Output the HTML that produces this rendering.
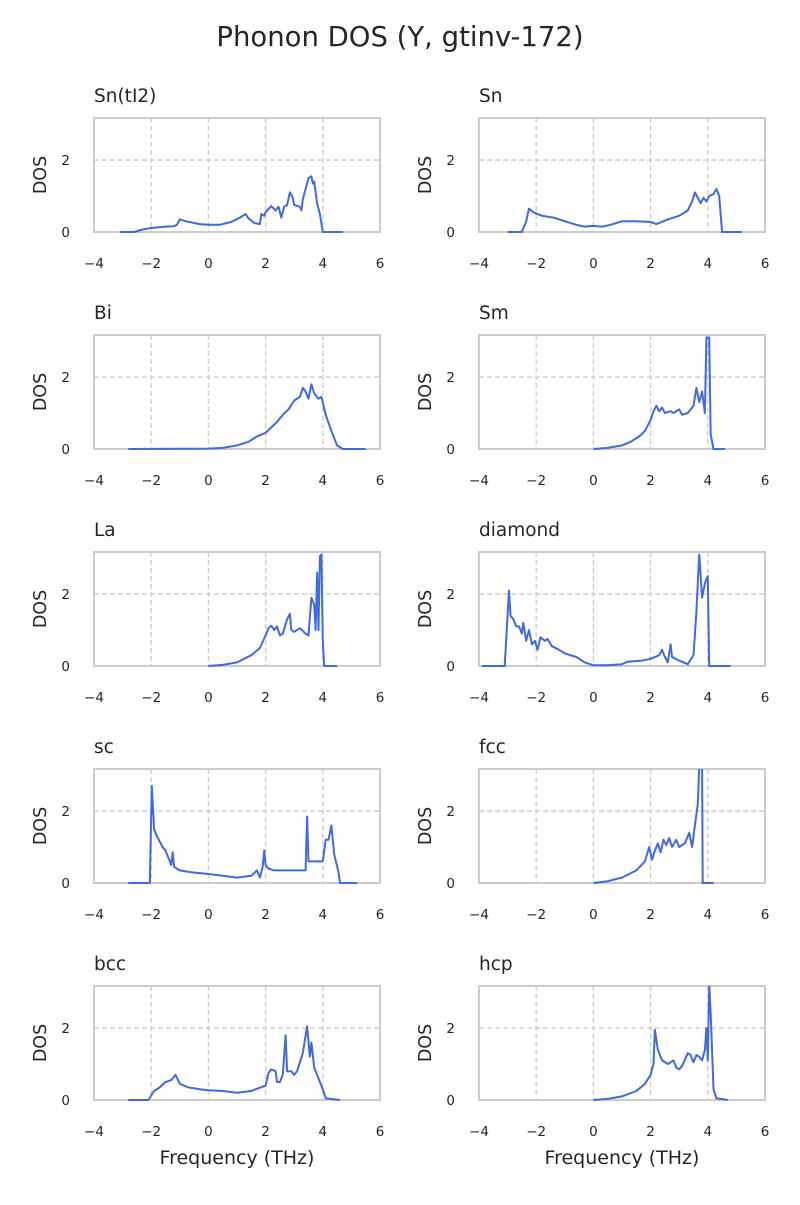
<!DOCTYPE html>
<html><head><meta charset="utf-8"><style>
body{margin:0;background:#fff;font-family:"Liberation Sans","DejaVu Sans",sans-serif;}
svg text{font-family:"DejaVu Sans","Liberation Sans",sans-serif;fill:#262626;}
</style></head><body>
<svg id="chart" width="800" height="1200" xmlns="http://www.w3.org/2000/svg">
<text x="400" y="46" font-size="27.5" text-anchor="middle">Phonon DOS (Y, gtinv-172)</text>
</svg>
<script>
const panelNames = ["Sn(tI2)","Sn","Bi","Sm","La","diamond","sc","fcc","bcc","hcp"];
const xTicks = [-4,-2,0,2,4,6];
const yTicks = [0,2];
const freqSn_tI2 = [-3.1,-2.6,-2.3,-2,-1.5,-1.2,-1.1,-1,-0.8,-0.5,-0.3,0,0.4,0.8,1.1,1.3,1.4,1.6,1.8,1.85,1.95,2.0,2.2,2.35,2.45,2.55,2.65,2.75,2.85,2.95,3.0,3.2,3.25,3.3,3.4,3.5,3.6,3.65,3.7,3.8,3.9,4.0,4.7];
const dosSn_tI2 = [0,0,0.07,0.11,0.15,0.16,0.2,0.35,0.3,0.25,0.22,0.2,0.2,0.28,0.4,0.5,0.38,0.25,0.22,0.5,0.45,0.55,0.72,0.6,0.7,0.4,0.7,0.75,1.1,0.95,0.75,0.7,0.6,0.9,1.2,1.5,1.55,1.35,1.4,0.8,0.5,0,0];
const freqSn = [-3,-2.5,-2.35,-2.25,-2.1,-1.8,-1.4,-1,-0.6,-0.3,0,0.3,0.6,0.8,1,1.4,2,2.2,2.6,3.0,3.3,3.45,3.55,3.65,3.75,3.85,3.95,4.05,4.2,4.3,4.4,4.5,5.2];
const dosSn = [0,0,0.3,0.65,0.55,0.45,0.4,0.3,0.2,0.15,0.17,0.15,0.2,0.25,0.3,0.3,0.28,0.22,0.35,0.45,0.6,0.85,1.1,0.95,0.8,0.95,0.85,1.0,1.05,1.2,1.0,0,0];
const freqBi = [-2.8,0,0.5,1,1.4,1.7,2,2.2,2.4,2.6,2.8,3.0,3.2,3.3,3.4,3.5,3.6,3.7,3.85,3.95,4.1,4.3,4.5,4.7,5.5];
const dosBi = [0,0.01,0.03,0.1,0.2,0.35,0.45,0.6,0.75,0.95,1.1,1.35,1.45,1.7,1.6,1.4,1.8,1.55,1.4,1.45,0.95,0.5,0.1,0,0];
const freqSm = [0,0.5,1,1.3,1.6,1.8,2,2.1,2.2,2.3,2.4,2.5,2.7,2.8,3.0,3.1,3.3,3.5,3.6,3.7,3.8,3.9,3.95,4.05,4.1,4.2,4.6];
const dosSm = [0,0.03,0.1,0.2,0.35,0.5,0.8,1.05,1.2,1.05,1.15,1.0,1.05,1.0,1.1,0.95,1.0,1.2,1.7,1.3,1.6,1.0,3.1,3.1,0.4,0,0];
const freqLa = [0,0.5,1,1.5,1.8,2,2.1,2.2,2.3,2.4,2.5,2.6,2.75,2.85,2.9,3.0,3.2,3.4,3.5,3.6,3.7,3.75,3.8,3.85,3.9,3.95,4.0,4.05,4.5];
const dosLa = [0,0.03,0.1,0.3,0.5,0.85,1.05,1.12,1.0,1.1,0.85,0.9,1.3,1.45,1.0,0.95,1.05,0.9,0.85,1.9,1.7,1.0,2.6,1.0,3.05,3.1,0.7,0,0];
const freqDiamond = [-3.9,-3.1,-2.95,-2.9,-2.8,-2.7,-2.6,-2.5,-2.45,-2.35,-2.25,-2.15,-2.05,-1.95,-1.85,-1.7,-1.6,-1.45,-1.2,-1,-0.6,-0.3,0,0.5,1,1.2,1.7,2.0,2.3,2.4,2.5,2.6,2.7,2.75,3,3.3,3.5,3.6,3.7,3.8,3.9,4.0,4.05,4.8];
const dosDiamond = [0,0,2.1,1.4,1.3,1.1,1.1,0.9,1.2,0.7,1.0,0.6,0.7,0.45,0.8,0.7,0.75,0.55,0.45,0.35,0.25,0.1,0.02,0.02,0.05,0.12,0.15,0.2,0.3,0.45,0.25,0.1,0.6,0.25,0.15,0.05,0.3,1.5,3.1,1.9,2.3,2.5,0,0];
const freqSc = [-2.8,-2.05,-1.98,-1.9,-1.8,-1.6,-1.5,-1.4,-1.3,-1.25,-1.2,-1,-0.6,0,0.5,1,1.5,1.7,1.8,1.9,1.95,2.0,2.1,2.3,3.4,3.45,3.5,4.0,4.1,4.2,4.3,4.4,4.55,4.6,5.2];
const dosSc = [0,0,2.7,1.5,1.3,1.0,0.9,0.7,0.5,0.85,0.45,0.35,0.3,0.25,0.2,0.15,0.2,0.35,0.15,0.45,0.9,0.5,0.4,0.35,0.35,1.85,0.6,0.6,1.2,1.2,1.6,0.8,0.3,0,0];
const freqFcc = [0,0.5,1,1.5,1.8,1.95,2.05,2.15,2.25,2.35,2.45,2.55,2.65,2.75,2.9,3.0,3.2,3.35,3.45,3.55,3.65,3.7,3.8,3.82,4.2];
const dosFcc = [0,0.05,0.15,0.35,0.6,1.0,0.65,0.9,1.1,0.85,1.2,1.05,1.25,1.0,1.2,1.0,1.1,1.4,1.0,1.6,2.2,3.2,3.2,0,0];
const freqBcc = [-2.8,-2.1,-1.9,-1.7,-1.5,-1.3,-1.15,-1,-0.7,-0.3,0,0.5,1,1.5,2.0,2.1,2.2,2.35,2.4,2.5,2.6,2.7,2.75,2.9,3.0,3.1,3.3,3.45,3.55,3.6,3.7,3.85,4.0,4.1,4.6];
const dosBcc = [0,0,0.25,0.35,0.5,0.55,0.7,0.45,0.35,0.3,0.27,0.25,0.2,0.25,0.4,0.75,0.85,0.8,0.5,0.5,0.7,1.8,0.8,0.8,0.7,0.8,1.3,2.05,1.2,1.6,0.9,0.6,0.3,0.05,0];
const freqHcp = [0,0.5,1,1.5,1.8,2.0,2.1,2.15,2.25,2.4,2.6,2.8,2.9,3.0,3.1,3.3,3.4,3.5,3.6,3.7,3.8,3.9,3.95,4.0,4.05,4.1,4.2,4.3,4.7];
const dosHcp = [0,0.03,0.1,0.25,0.45,0.7,1.0,1.95,1.4,1.1,1.0,1.1,0.9,0.85,0.95,1.3,1.25,1.05,1.25,1.2,1.1,1.4,2.0,1.1,3.2,2.4,0.3,0.05,0];

const freqs=[freqSn_tI2,freqSn,freqBi,freqSm,freqLa,freqDiamond,freqSc,freqFcc,freqBcc,freqHcp];
const doss=[dosSn_tI2,dosSn,dosBi,dosSm,dosLa,dosDiamond,dosSc,dosFcc,dosBcc,dosHcp];
const NS="http://www.w3.org/2000/svg";
const svg=document.getElementById('chart');
function mk(tag,attrs,parent){const e=document.createElementNS(NS,tag);for(const k in attrs)e.setAttribute(k,attrs[k]);(parent||svg).appendChild(e);return e;}
const XMIN=-4,XMAX=6,YMAX=3.17;
const W=286,H=114;
const lefts=[94,479],tops=[118,335,552,769,986];
panelNames.forEach((name,i)=>{
  const L=lefts[i%2],T=tops[Math.floor(i/2)];
  const xs=v=>L+(v-XMIN)/(XMAX-XMIN)*W;
  const ys=v=>T+H-v/YMAX*H;
  const g=mk('g',{});
  
  
  const cp=mk('clipPath',{id:'cp'+i},g);mk('rect',{x:L,y:T,width:W,height:H+2},cp);
  xTicks.forEach(t=>{
    if(t>XMIN&&t<XMAX){const l=mk('line',{x1:xs(t),x2:xs(t),y1:T,y2:T+H,stroke:'#cccccc','stroke-width':1.3,'stroke-dasharray':'5,3'},g);
    }
    const tx=mk('text',{x:xs(t),y:T+H+36,'font-size':13.5,'text-anchor':'middle'},g);
    tx.textContent=(t<0?'\u2212'+(-t):t);
    
  });
  yTicks.forEach(t=>{
    if(t>0){const l=mk('line',{x1:L,x2:L+W,y1:ys(t),y2:ys(t),stroke:'#cccccc','stroke-width':1.3,'stroke-dasharray':'5,3'},g);
    }
    const tx=mk('text',{x:L-24,y:ys(t)+5,'font-size':13.5,'text-anchor':'end'},g);
    tx.textContent=t;
    
  });
  const fr=mk('rect',{x:L,y:T,width:W,height:H,fill:'none',stroke:'#cccccc','stroke-width':2},g);
  
  const f=freqs[i],d=doss[i];
  const pts=f.map((v,k)=>xs(v).toFixed(1)+','+ys(d[k]).toFixed(1)).join(' ');
  const pl=mk('polyline',{points:pts,fill:'none',stroke:'#4169e1','stroke-width':2,'stroke-linejoin':'round','clip-path':'url(#cp'+i+')'},g);
  
  const ti=mk('text',{x:L,y:T-16,'font-size':18.5},g);ti.textContent=name;
  
  const yl=mk('text',{x:0,y:0,'font-size':17.5,'text-anchor':'middle',transform:'translate('+(L-48)+','+(T+H/2)+') rotate(-90)'},g);
  yl.textContent='DOS';
  
  if(Math.floor(i/2)===4){
    const xl=mk('text',{x:L+W/2,y:T+H+64,'font-size':19,'text-anchor':'middle'},g);
    xl.textContent='Frequency (THz)';
    
  }
});
</script>
</body></html>
